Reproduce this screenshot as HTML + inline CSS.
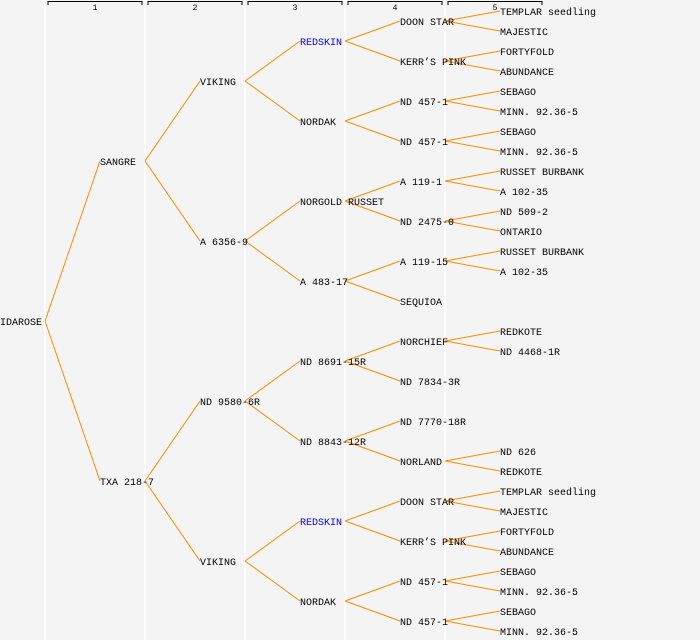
<!DOCTYPE html>
<html><head><meta charset="utf-8"><style>
html,body{margin:0;padding:0;background:#f4f4f4;}
svg{display:block;}
text{font-family:"Liberation Mono","DejaVu Sans Mono",monospace;font-size:10px;dominant-baseline:middle;fill:#000;}
</style></head><body>
<svg id="s" width="700" height="640" xmlns="http://www.w3.org/2000/svg">
<rect width="700" height="640" fill="#f4f4f4"/>
</svg>
<script>
var s=document.getElementById('s'),NS='http://www.w3.org/2000/svg';
function el(t,a,txt){var e=document.createElementNS(NS,t);for(var k in a)e.setAttribute(k,a[k]);if(txt)e.textContent=txt;s.appendChild(e);return e;}
[45,145,245,345,445].forEach(function(x){el('line',{x1:x,y1:0,x2:x,y2:640,stroke:'#fff','stroke-width':1.5});});
for(var i=0;i<5;i++){var x0=48+i*100,x1=142+i*100;
el('path',{d:'M'+x0+' 5V1.5H'+x1+'V5',fill:'none',stroke:'#000','stroke-width':1});
el('text',{x:(x0+x1)/2,y:8,'text-anchor':'middle',style:'font-size:8px'},String(i+1));}
var tree=['IDAROSE',[
 ['SANGRE',[
  ['VIKING',[
   ['REDSKIN',[['DOON STAR',['TEMPLAR seedling','MAJESTIC']],['KERR\u2019S PINK',['FORTYFOLD','ABUNDANCE']]],1],
   ['NORDAK',[['ND 457-1',['SEBAGO','MINN. 92.36-5']],['ND 457-1',['SEBAGO','MINN. 92.36-5']]]]]],
  ['A 6356-9',[
   ['NORGOLD RUSSET',[['A 119-1',['RUSSET BURBANK','A 102-35']],['ND 2475-0',['ND 509-2','ONTARIO']]]],
   ['A 483-17',[['A 119-15',['RUSSET BURBANK','A 102-35']],'SEQUIOA']]]]]],
 ['TXA 218-7',[
  ['ND 9580-6R',[
   ['ND 8691-15R',[['NORCHIEF',['REDKOTE','ND 4468-1R']],'ND 7834-3R']],
   ['ND 8843-12R',['ND 7770-18R',['NORLAND',['ND 626','REDKOTE']]]]]],
  ['VIKING',[
   ['REDSKIN',[['DOON STAR',['TEMPLAR seedling','MAJESTIC']],['KERR\u2019S PINK',['FORTYFOLD','ABUNDANCE']]],1],
   ['NORDAK',[['ND 457-1',['SEBAGO','MINN. 92.36-5']],['ND 457-1',['SEBAGO','MINN. 92.36-5']]]]]]]]]];
var row=0,lines=[],texts=[];
function lay(n,d){
 var name,kids=null,blue=0;
 if(typeof n==='string')name=n;else{name=n[0];kids=n[1];blue=n[2];}
 var y;
 if(!kids){var span=Math.pow(2,5-d);y=12+(row+(span-1)/2)*20;row+=span;}
 else{var ys=kids.map(function(k){return lay(k,d+1);});
  y=(ys[0]+ys[ys.length-1])/2;
  ys.forEach(function(cy){lines.push([d*100+45,y-1,(d+1)*100,cy-1]);});}
 texts.push([d*100,y,name,blue]);return y;}
lay(tree,0);
lines.forEach(function(l){el('line',{x1:l[0],y1:l[1],x2:l[2],y2:l[3],stroke:'#ff8c00','stroke-width':1});});
texts.forEach(function(t){el('text',{x:t[0],y:t[1]+0.5,style:t[3]?'fill:#0000ff':''},t[2]);});
</script>
</body></html>
